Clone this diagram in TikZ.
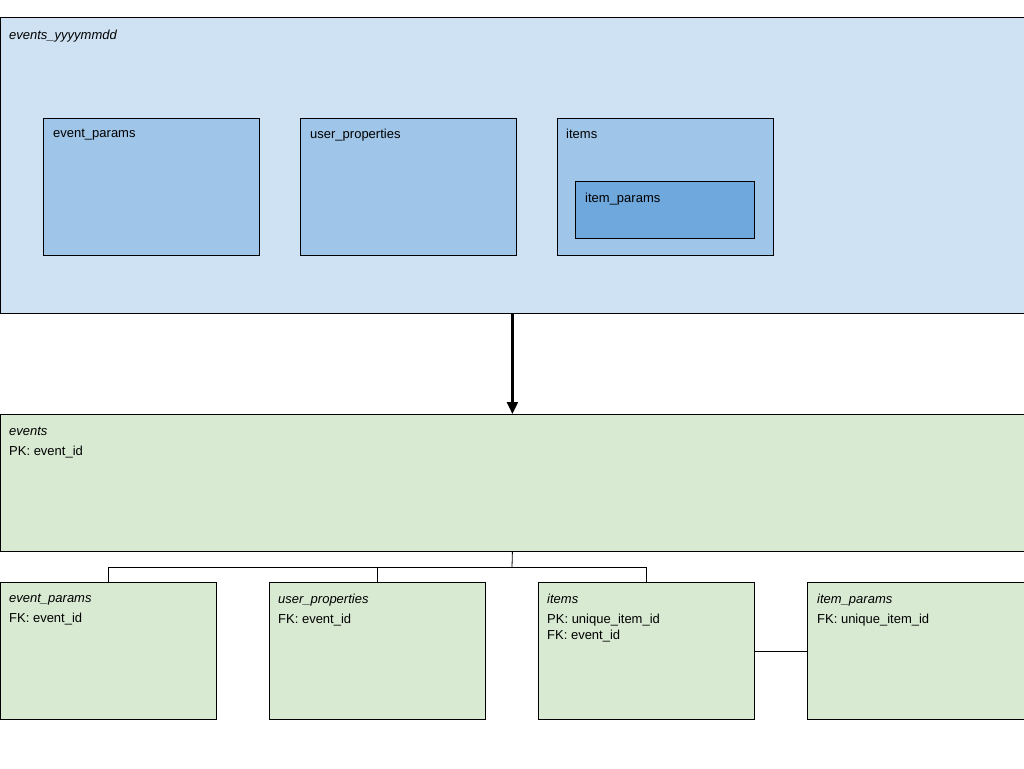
\documentclass[tikz,border=0pt]{standalone}
\usepackage{fontspec}
\setmainfont{Liberation Sans}
\usetikzlibrary{arrows.meta}
\begin{document}
\begin{tikzpicture}[x=1pt,y=-1pt,
  box/.style={draw=black,line width=0.8pt,anchor=north west,inner sep=0pt},
  lbl/.style={anchor=north west,inner sep=0pt,font=\fontsize{13}{16}\selectfont,align=left},
  conn/.style={draw=black,line width=0.8pt}]
\useasboundingbox (0,0) rectangle (1024,768);
\definecolor{lb}{HTML}{CFE2F3}\definecolor{mb}{HTML}{9FC5E8}\definecolor{db}{HTML}{6FA8DC}\definecolor{gr}{HTML}{D9EAD3}
\node[box,fill=lb,minimum width=1024pt,minimum height=296pt] (top) at (0,17) {};
\node[lbl] at (9,30) {\itshape events\_yyyymmdd};
\node[box,fill=mb,minimum width=216pt,minimum height=137pt] (tep) at (43,118) {};
\node[lbl] at (53,129) {event\_params};
\node[box,fill=mb,minimum width=216pt,minimum height=137pt] (tup) at (300,118) {};
\node[lbl] at (310,129) {user\_properties};
\node[box,fill=mb,minimum width=216pt,minimum height=137pt] (tit) at (557,118) {};
\node[lbl] at (566,129) {items};
\node[box,fill=db,minimum width=179pt,minimum height=57pt] (tip) at (575,181) {};
\node[lbl] at (585,193) {item\_params};
\node[box,fill=gr,minimum width=1024pt,minimum height=137pt] (ev) at (0,414) {};
\node[lbl] at (9,427) {\itshape events\\[4pt]PK: event\_id};
\node[box,fill=gr,minimum width=216pt,minimum height=137pt] (ep) at (0,582) {};
\node[lbl] at (9,594) {\itshape event\_params\\[4pt]FK: event\_id};
\node[box,fill=gr,minimum width=216pt,minimum height=137pt] (up) at (269,582) {};
\node[lbl] at (278,594) {\itshape user\_properties\\[4pt]FK: event\_id};
\node[box,fill=gr,minimum width=216pt,minimum height=137pt] (it) at (538,582) {};
\node[lbl] at (547,594) {\itshape items\\[4pt]PK: unique\_item\_id\\FK: event\_id};
\node[box,fill=gr,minimum width=217pt,minimum height=137pt] (ip) at (807,582) {};
\node[lbl] at (817,594) {\itshape item\_params\\[4pt]FK: unique\_item\_id};
\draw[line width=2.2pt,-{Triangle[length=12pt,width=11pt]}] (top.south) -- (ev.north);
\coordinate (j) at (512,567);
\draw[conn] (ev.south) -- (j);
\draw[conn] (j) -| (108,582);
\draw[conn] (j) -| (377,582);
\draw[conn] (j) -| (646,582);
\draw[conn] (754,651) -- (807,651);
\end{tikzpicture}
\end{document}
